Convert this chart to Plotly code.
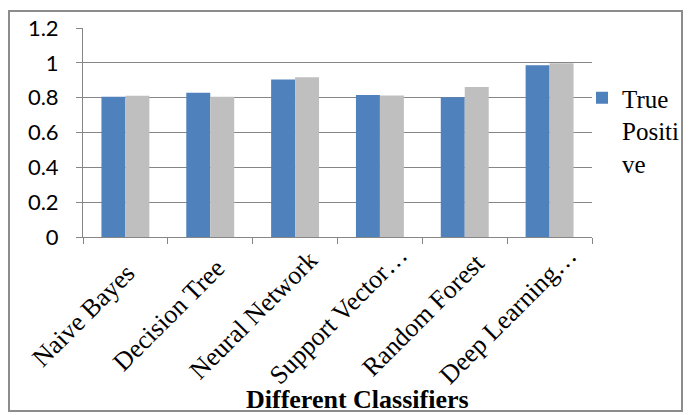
import plotly.graph_objects as go

categories = ["Naive Bayes", "Decision Tree", "Neural Network", "Support Vector…", "Random Forest", "Deep Learning…"]
true_positive = [0.805, 0.828, 0.905, 0.815, 0.802, 0.986]
series2 = [0.811, 0.805, 0.917, 0.812, 0.861, 0.997]
y_ticks = [0, 0.2, 0.4, 0.6, 0.8, 1, 1.2]

W, H = 697, 415
L, R, T, B = 83, 592, 28, 237

def px(x):
    return (x - L) / (R - L)

def py(y):
    return (B - y) / (B - T)

fig = go.Figure()
fig.add_trace(go.Bar(x=categories, y=true_positive, name="True<br>Positi<br>ve",
                     marker=dict(color="#4F81BD", line=dict(width=0))))
fig.add_trace(go.Bar(x=categories, y=series2, name="Series 2", showlegend=False,
                     marker=dict(color="#BFBFBF", line=dict(width=0))))

fig.update_layout(
    width=W, height=H,
    margin=dict(l=L, r=W - R, t=T, b=H - B, pad=0, autoexpand=False),
    paper_bgcolor="white", plot_bgcolor="white",
    barmode="group", bargap=0.435, bargroupgap=0,
    font=dict(family="Liberation Serif", color="black"),
    xaxis=dict(
        type="category", automargin=False, showticklabels=False,
        range=[-0.5, len(categories) - 0.5], autorange=False,
        showline=True, linecolor="#868686", linewidth=1,
        ticks="outside", tickson="boundaries", ticklen=6, tickcolor="#868686",
        showgrid=False,
    ),
    yaxis=dict(
        range=[0, 1.2], tickvals=y_ticks, ticktext=[str(v) for v in y_ticks],
        automargin=False,
        tickfont=dict(family="Lato", size=22, color="black"),
        showline=True, linecolor="#868686", linewidth=1,
        ticks="outside", ticklen=6, tickcolor="#868686",
        ticklabelstandoff=13,
        showgrid=True, gridcolor="#868686", gridwidth=1,
        zeroline=False,
    ),
    legend=dict(
        xref="container", yref="container",
        x=582 / W, y=1 - 75 / H, xanchor="left", yanchor="top",
        font=dict(family="Liberation Serif", size=25, color="black"),
        bgcolor="rgba(0,0,0,0)", itemwidth=30, tracegroupgap=0, valign="top",
    ),
    showlegend=True,
)

# Category labels, rotated and centred below each category (Excel style)
for cat in categories:
    fig.add_annotation(
        text=cat, xref="x", yref="paper", x=cat, y=py(315), xshift=-42,
        xanchor="center", yanchor="middle", textangle=-45, showarrow=False,
        font=dict(family="Liberation Serif", size=26, color="black"),
    )

fig.add_annotation(
    text="<b>Different Classifiers</b>", xref="paper", yref="paper",
    x=px(357), y=py(399), xanchor="center", yanchor="middle", showarrow=False,
    font=dict(family="Liberation Serif", size=26, color="black"),
)

fig.add_shape(type="rect", xref="paper", yref="paper",
              x0=px(9), x1=px(682), y0=py(411), y1=py(11),
              line=dict(color="#8C8C8C", width=2), fillcolor="rgba(0,0,0,0)", layer="below")

fig.write_html("out.html")
